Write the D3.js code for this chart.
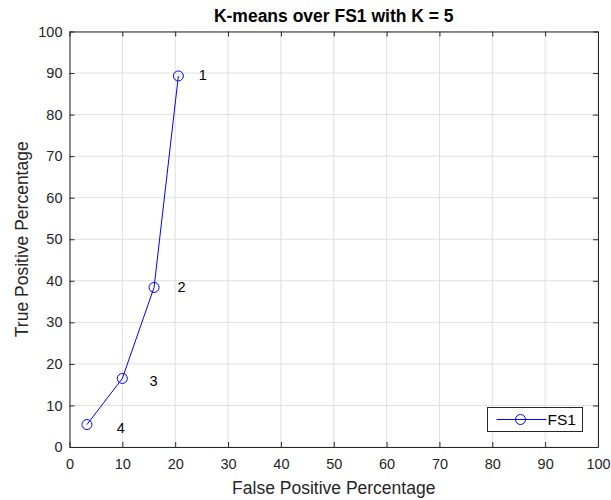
<!DOCTYPE html>
<html>
<head>
<meta charset="utf-8">
<script src="https://cdn.jsdelivr.net/npm/d3@7"></script>
<style>
  body { margin: 0; background: #fff; }
  svg { font-family: "Liberation Sans", Arial, sans-serif; }
</style>
</head>
<body>
<div id="chart"></div>
<script>
const fpr = [20.6, 16.0, 10.0, 3.3]
const tpr = [89.3, 38.4, 16.5, 5.4]
const pointLabels = ['1', '2', '3', '4']
const labelX = [25.2, 21.2, 15.9, 9.7]
const labelY = [89.5, 38.5, 15.8, 4.6]
const xTicks = [0, 10, 20, 30, 40, 50, 60, 70, 80, 90, 100]
const yTicks = [0, 10, 20, 30, 40, 50, 60, 70, 80, 90, 100]
const seriesName = 'FS1'

const W = 611, H = 500
const MARGIN = { TOP: 31.5, BOTTOM: 53, LEFT: 69.5, RIGHT: 13 }
const WIDTH = W - MARGIN.LEFT - MARGIN.RIGHT
const HEIGHT = H - MARGIN.TOP - MARGIN.BOTTOM
const AXIS = '#262626'

const svg = d3.select('#chart').append('svg')
  .attr('width', W).attr('height', H)

const g = svg.append('g')
  .attr('transform', `translate(${MARGIN.LEFT}, ${MARGIN.TOP})`)

const x = d3.scaleLinear().domain([0, 100]).range([0, WIDTH])
const y = d3.scaleLinear().domain([0, 100]).range([HEIGHT, 0])

// grid
g.append('g').selectAll('line').data(xTicks).enter().append('line')
  .attr('x1', d => x(d)).attr('x2', d => x(d))
  .attr('y1', 0).attr('y2', HEIGHT)
  .attr('stroke', '#dfdfdf').attr('stroke-width', 1)
g.append('g').selectAll('line').data(yTicks).enter().append('line')
  .attr('y1', d => y(d)).attr('y2', d => y(d))
  .attr('x1', 0).attr('x2', WIDTH)
  .attr('stroke', '#dfdfdf').attr('stroke-width', 1)

// axes (ticks pointing inward, box on)
function styleAxis(sel) {
  sel.selectAll('path').attr('stroke', AXIS)
  sel.selectAll('line').attr('stroke', AXIS)
  sel.selectAll('text').attr('fill', AXIS).style('font-size', '14.5px')
    .style('font-family', '"Liberation Sans", Arial, sans-serif')
}

g.append('g')
  .attr('transform', `translate(0, ${HEIGHT})`)
  .call(d3.axisBottom(x).tickValues(xTicks).tickSizeInner(-5).tickSizeOuter(0).tickPadding(12))
  .call(styleAxis)
g.append('g')
  .call(d3.axisLeft(y).tickValues(yTicks).tickSizeInner(-5).tickSizeOuter(0).tickPadding(7))
  .call(styleAxis)
g.append('g')
  .call(d3.axisTop(x).tickValues(xTicks).tickSizeInner(-5).tickSizeOuter(0).tickFormat(''))
  .call(styleAxis)
g.append('g')
  .attr('transform', `translate(${WIDTH}, 0)`)
  .call(d3.axisRight(y).tickValues(yTicks).tickSizeInner(-5).tickSizeOuter(0).tickFormat(''))
  .call(styleAxis)

// series
const data = fpr.map((v, i) => ({ x: v, y: tpr[i], label: pointLabels[i], lx: labelX[i], ly: labelY[i] }))

g.append('path')
  .datum(data)
  .attr('fill', 'none')
  .attr('stroke', '#0000ff')
  .attr('stroke-width', 1)
  .attr('d', d3.line().x(d => x(d.x)).y(d => y(d.y)))

g.selectAll('circle.pt').data(data).enter().append('circle')
  .attr('class', 'pt')
  .attr('cx', d => x(d.x)).attr('cy', d => y(d.y))
  .attr('r', 5)
  .attr('fill', 'none').attr('stroke', '#0000ff').attr('stroke-width', 1)

g.selectAll('text.lbl').data(data).enter().append('text')
  .attr('class', 'lbl')
  .attr('x', d => x(d.lx)).attr('y', d => y(d.ly))
  .attr('dy', '0.35em')
  .attr('text-anchor', 'middle')
  .style('font-size', '14.5px')
  .attr('fill', '#000')
  .text(d => d.label)

// legend
const leg = svg.append('g').attr('transform', 'translate(487.5, 407.5)')
leg.append('rect')
  .attr('width', 95).attr('height', 24)
  .attr('fill', '#fff').attr('stroke', '#262626').attr('stroke-width', 1)
leg.append('line')
  .attr('x1', 9).attr('x2', 59).attr('y1', 12).attr('y2', 12)
  .attr('stroke', '#0000ff')
leg.append('circle')
  .attr('cx', 33).attr('cy', 12).attr('r', 5)
  .attr('fill', 'none').attr('stroke', '#0000ff')
leg.append('text')
  .attr('x', 60).attr('y', 12).attr('dy', '0.36em')
  .style('font-size', '15.5px').attr('fill', '#000')
  .text(seriesName)

// titles
svg.append('text')
  .attr('x', MARGIN.LEFT + WIDTH / 2).attr('y', 21.5)
  .attr('text-anchor', 'middle')
  .style('font-size', '17.5px').style('font-weight', 'bold')
  .text(`K-means over ${seriesName} with K = 5`)

svg.append('text')
  .attr('x', MARGIN.LEFT + WIDTH / 2).attr('y', 493.5)
  .attr('text-anchor', 'middle')
  .style('font-size', '17.5px').attr('fill', AXIS)
  .text('False Positive Percentage')

svg.append('text')
  .attr('transform', `translate(27.5, ${MARGIN.TOP + HEIGHT / 2}) rotate(-90)`)
  .attr('text-anchor', 'middle')
  .style('font-size', '17.5px').attr('fill', AXIS)
  .text('True Positive Percentage')
</script>
</body>
</html>
